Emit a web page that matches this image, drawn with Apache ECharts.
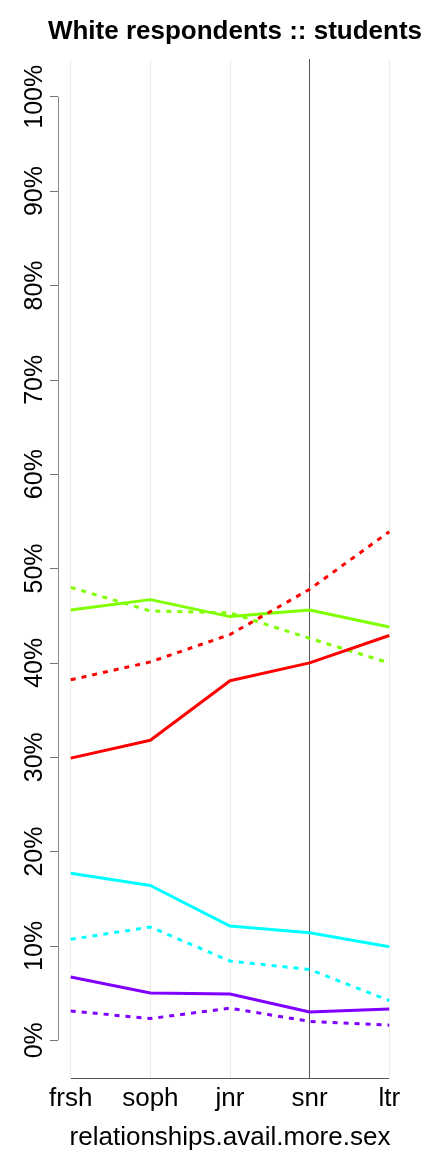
<!DOCTYPE html>
<html>
<head>
<meta charset="utf-8">
<script src="https://cdn.jsdelivr.net/npm/echarts@6/dist/echarts.min.js"></script>
<style>
  html, body { margin: 0; padding: 0; background: #fff; }
  #chart { width: 432px; height: 1152px; }
</style>
</head>
<body>
<div id="chart"></div>
<script>
// categories along x
const categories = ['frsh', 'soph', 'jnr', 'snr', 'ltr'];
// y tick values (percent)
const yTicks = [0, 10, 20, 30, 40, 50, 60, 70, 80, 90, 100];

// series values, percent
const greenSolid = [45.6, 46.7, 44.9, 45.6, 43.8];
const greenDashed = [48.0, 45.5, 45.3, 42.6, 40.0];
const redSolid = [29.9, 31.8, 38.1, 40.0, 42.9];
const redDashed = [38.2, 40.1, 43.0, 47.8, 53.9];
const cyanSolid = [17.7, 16.4, 12.1, 11.4, 9.9];
const cyanDashed = [10.7, 12.0, 8.4, 7.5, 4.2];
const purpleSolid = [6.7, 5.0, 4.9, 3.0, 3.3];
const purpleDashed = [3.1, 2.3, 3.4, 2.0, 1.6];

const font = 'Liberation Sans, Arial, Helvetica, sans-serif';
const xIdx = categories.map((c, i) => i + 1);
// R style: plot range padded 4% on each side
const xMin = 1 - 0.04 * (categories.length - 1);
const xMax = categories.length + 0.04 * (categories.length - 1);
const yMin = -4;
const yMax = 104;

function line(values, color, dashed) {
  return {
    type: 'line',
    data: values.map((v, i) => [i + 1, v]),
    symbol: 'none',
    silent: true,
    lineStyle: {
      color: color,
      width: 3,
      type: dashed ? [5, 6] : 'solid',
    },
    z: 5,
  };
}

const chart = echarts.init(document.getElementById('chart'));

const option = {
  animation: false,
  backgroundColor: '#fff',
  title: {
    text: 'White respondents :: students',
    left: 230,
    textAlign: 'center',
    top: 14,
    textStyle: { fontFamily: font, fontSize: 26, fontWeight: 'bold', color: '#000' },
  },
  grid: { left: 58, right: 30, top: 59, bottom: 74, outerBoundsMode: 'none' },
  xAxis: {
    type: 'value',
    min: xMin,
    max: xMax,
    name: 'relationships.avail.more.sex',
    nameLocation: 'middle',
    nameGap: 47,
    nameTextStyle: { fontFamily: font, fontSize: 26, color: '#000' },
    axisLine: { show: false },
    splitLine: { show: false },
    axisTick: { show: true, customValues: xIdx, length: 7, lineStyle: { color: '#555' } },
    axisLabel: {
      customValues: xIdx,
      formatter: (v) => categories[Math.round(v) - 1] || '',
      fontFamily: font,
      fontSize: 26,
      color: '#000',
      margin: 8,
    },
  },
  yAxis: {
    type: 'value',
    min: yMin,
    max: yMax,
    axisLine: { show: false },
    splitLine: { show: false },
    axisTick: { show: true, customValues: yTicks, length: 8, lineStyle: { color: '#777' } },
    axisLabel: {
      customValues: yTicks,
      formatter: (v) => v + '%',
      rotate: 90,
      fontFamily: font,
      fontSize: 25,
      color: '#000',
      margin: 10,
    },
  },
  series: [
    {
      type: 'line',
      data: [],
      silent: true,
      markLine: {
        silent: true,
        symbol: 'none',
        label: { show: false },
        animation: false,
        data: xIdx.map((x, i) => ({
          xAxis: x,
          lineStyle: {
            color: categories[i] === 'snr' ? '#555' : '#efede0',
            width: 1,
            type: 'solid',
          },
        })).concat([
          // x axis line, first to last category
          [{ coord: [1, yMin], lineStyle: { color: '#555', width: 1, type: 'solid' } }, { coord: [categories.length, yMin] }],
          // y axis line, 0% to 100%
          [{ coord: [xMin, yTicks[0]], lineStyle: { color: '#888', width: 1, type: 'solid' } }, { coord: [xMin, yTicks[yTicks.length - 1]] }],
        ]),
      },
      z: 1,
    },
    line(greenDashed, '#80ff00', true),
    line(greenSolid, '#80ff00', false),
    line(redDashed, '#ff0000', true),
    line(redSolid, '#ff0000', false),
    line(cyanDashed, '#00ffff', true),
    line(cyanSolid, '#00ffff', false),
    line(purpleDashed, '#8000ff', true),
    line(purpleSolid, '#8000ff', false),
  ],
};

chart.setOption(option);
</script>
</body>
</html>
